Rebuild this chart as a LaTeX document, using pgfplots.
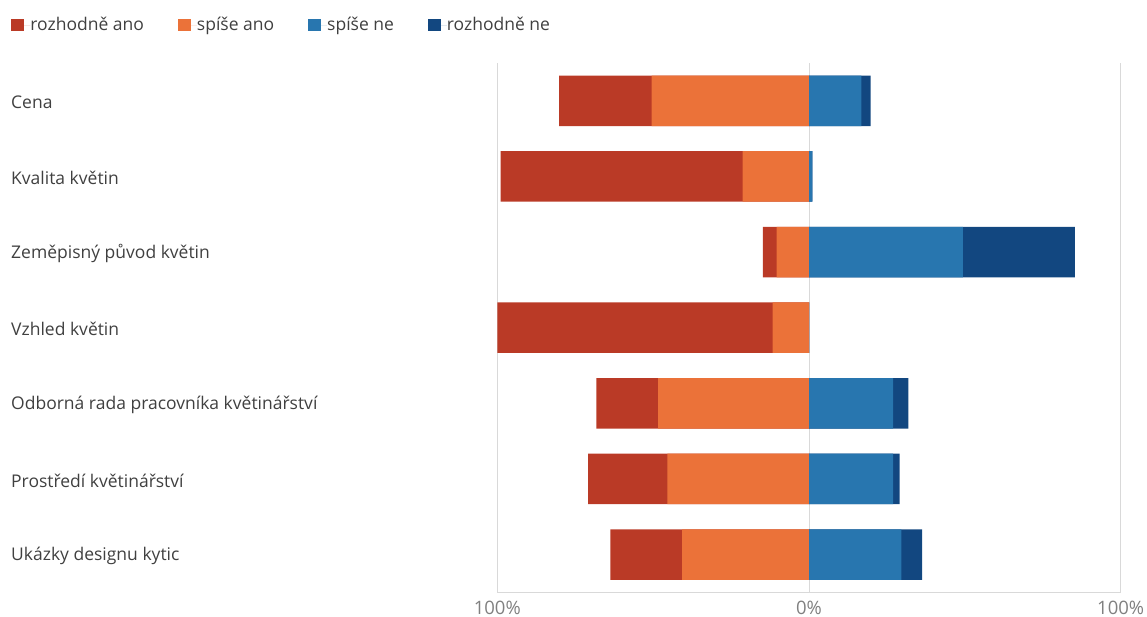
\documentclass[border=0pt]{standalone}
\usepackage{pgfplots}
\pgfplotsset{compat=1.18}
\usepackage{pgfplotstable}
\usepackage{fontspec}
\setmainfont{Open Sans}
\definecolor{cRA}{HTML}{BA3A26}
\definecolor{cSA}{HTML}{EB7239}
\definecolor{cSN}{HTML}{2876AF}
\definecolor{cRN}{HTML}{124780}
\definecolor{txt}{HTML}{404040}
\definecolor{tickc}{HTML}{808080}
\definecolor{gridc}{HTML}{D9D9D9}

\pgfplotstableread{
idx ra sa sn rn
0 29.7 50.5 16.8 3.0
1 77.6 21.3 1.1 0
2 4.4 10.4 49.4 35.9
3 88.3 11.7 0 0
4 19.8 48.4 27.0 4.9
5 25.5 45.4 27.0 2.1
6 23.0 40.7 29.6 6.7
}\data

\begin{document}
\begin{tikzpicture}
\path[use as bounding box] (0,0) rectangle (1147bp,-617bp);
\begin{axis}[
  at={(497.3bp,-592.3bp)}, anchor=south west,
  scale only axis, width=623.4bp, height=529.3bp,
  xbar, bar width=50.5bp, bar shift=0pt,
  xmin=-100, xmax=100, ymin=-0.5, ymax=6.5, y dir=reverse,
  xtick={-100,0,100}, xticklabels={100\%,0\%,100\%},
  ytick={0,...,6},
  yticklabels={Cena, Kvalita květin, Zeměpisný původ květin, Vzhled květin, Odborná rada pracovníka květinářství, Prostředí květinářství, Ukázky designu kytic},
  major tick length=0pt,
  axis x line*=bottom, axis y line*=left,
  x axis line style={draw=gridc, line width=0.75bp, -},
  y axis line style={draw=none},
  xmajorgrids, grid style={draw=gridc, line width=0.75bp},
  xticklabel style={font=\fontsize{18.5bp}{20bp}\selectfont, text=tickc, inner sep=0pt, text depth=0pt, anchor=north, yshift=-8.5bp},
  yticklabel style={anchor=west, inner sep=0pt, xshift=-486.3bp, yshift=-1.5bp, font=\fontsize{17.5bp}{20bp}\selectfont, text=txt},
  legend image code/.code={\fill[#1] (0bp,-6.3bp) rectangle (12.6bp,6.3bp); \path (0bp,0bp) -- (19bp,0bp);},
  legend columns=4,
  legend style={draw=none, fill=none, inner sep=0pt, at={(axis description cs:-0.7798,1.0718)}, anchor=west,
    font=\fontsize{17.5bp}{20bp}\selectfont, text=txt,
    nodes={inner sep=0pt},
    /tikz/every even column/.append style={column sep=34bp}},
]
\addlegendimage{fill=cRA, draw=none}\addlegendentry{rozhodně ano}
\addlegendimage{fill=cSA, draw=none}\addlegendentry{spíše ano}
\addlegendimage{fill=cSN, draw=none}\addlegendentry{spíše ne}
\addlegendimage{fill=cRN, draw=none}\addlegendentry{rozhodně ne}
% left side: total (rozhodne ano + spise ano) underneath, spise ano on top
\addplot[fill=cRA, draw=none, forget plot] table[x expr=-\thisrow{ra}-\thisrow{sa}, y=idx] {\data};
\addplot[fill=cSA, draw=none, forget plot] table[x expr=-\thisrow{sa}, y=idx] {\data};
% right side: total (spise ne + rozhodne ne) underneath, spise ne on top
\addplot[fill=cRN, draw=none, forget plot] table[x expr=\thisrow{sn}+\thisrow{rn}, y=idx] {\data};
\addplot[fill=cSN, draw=none, forget plot] table[x=sn, y=idx] {\data};
\end{axis}
\end{tikzpicture}
\end{document}
